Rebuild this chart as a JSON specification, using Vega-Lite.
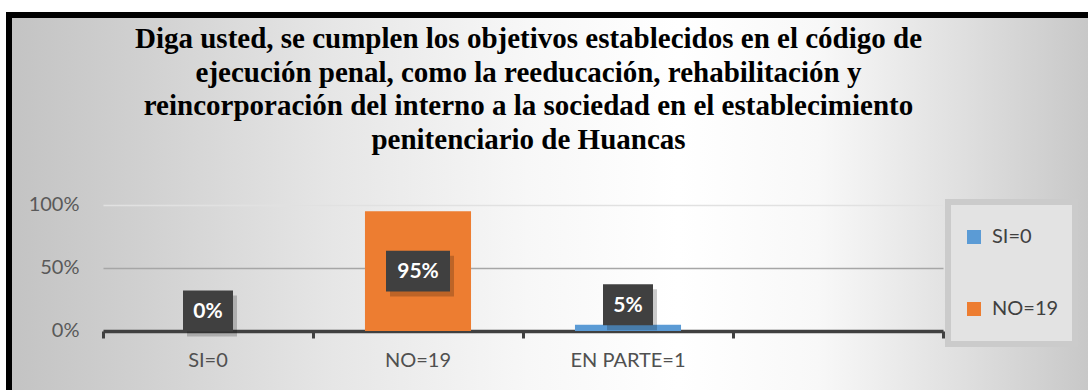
{
  "$schema": "https://vega.github.io/schema/vega-lite/v6.json",
  "width": 1079,
  "height": 375,
  "autosize": "none",
  "padding": {"left": 9, "top": 15, "right": 0, "bottom": 0},
  "background": "#ffffff",
  "view": {
    "fill": {"expr": "{gradient: 'linear', x1: 0, y1: 0, x2: 1, y2: 0, stops: [{offset: 0, color: '#c3c3c3'}, {offset: 0.12, color: '#d0d0d0'}, {offset: 0.3, color: '#e6e6e6'}, {offset: 0.48, color: '#f7f7f7'}, {offset: 0.62, color: '#ffffff'}, {offset: 0.75, color: '#f8f8f8'}, {offset: 0.88, color: '#e0e0e0'}, {offset: 1, color: '#c8c8c8'}]}"},
    "stroke": "#000000",
    "strokeWidth": 6,
    "strokeDash": [1079, 1454, 400]
  },
  "title": {
    "text": [
      "Diga usted, se cumplen los objetivos establecidos en el código de",
      "ejecución penal, como la reeducación, rehabilitación y",
      "reincorporación del interno a la sociedad en el establecimiento",
      "penitenciario de Huancas"
    ],
    "font": "Liberation Serif",
    "fontSize": 29,
    "fontWeight": "bold",
    "color": "#000000",
    "anchor": "middle",
    "frame": "group",
    "baseline": "top",
    "lineHeight": 33.7,
    "offset": -140,
    "dx": -20
  },
  "data": {
    "values": [
      {"respuesta": "SI=0", "serie": "SI=0", "pct": 0},
      {"respuesta": "NO=19", "serie": "NO=19", "pct": 0.95},
      {"respuesta": "EN PARTE=1", "serie": "SI=0", "pct": 0.05}
    ]
  },
  "transform": [
    {"calculate": "datum.pct >= 0.5 ? datum.pct / 2 : datum.pct", "as": "labelPos"}
  ],
  "encoding": {
    "x": {
      "field": "respuesta",
      "type": "nominal",
      "sort": null,
      "title": null,
      "scale": {
        "domain": ["SI=0", "NO=19", "EN PARTE=1", ""],
        "range": [94, 934],
        "paddingInner": 0,
        "paddingOuter": 0
      },
      "axis": {
        "orient": "bottom",
        "offset": -59,
        "bandPosition": 1,
        "tickExtra": true,
        "ticks": true,
        "tickSize": 7,
        "tickWidth": 3,
        "tickColor": "#404040",
        "domain": true,
        "domainColor": "#404040",
        "domainWidth": 3.5,
        "grid": false,
        "labelAngle": 0,
        "labelPadding": 12,
        "labelFont": "Lato",
        "labelFontSize": 20,
        "labelColor": "#505050"
      }
    }
  },
  "layer": [
    {
      "mark": {"type": "bar", "width": {"band": 0.505}},
      "encoding": {
        "y": {
          "field": "pct",
          "type": "quantitative",
          "title": null,
          "scale": {"domain": [-0.4683, 2.5079], "nice": false, "zero": false},
          "axis": {
            "values": [0, 0.5, 1],
            "format": ".0%",
            "domain": false,
            "ticks": false,
            "tickSize": 0,
            "grid": true,
            "gridColor": {"condition": {"test": "datum.value === 1", "value": "#e1e1e1"}, "value": "#a6a6a6"},
            "gridWidth": 1.5,
            "labelPadding": -70,
            "labelFont": "Lato",
            "labelFontSize": 20,
            "labelColor": "#595959"
          }
        },
        "y2": {"datum": 0},
        "color": {
          "field": "serie",
          "type": "nominal",
          "scale": {"domain": ["SI=0", "NO=19"], "range": ["#5b9bd5", "#ed7d31"]},
          "legend": {
            "title": null,
            "orient": "none",
            "legendX": 939,
            "legendY": 187,
            "direction": "vertical",
            "symbolType": "square",
            "symbolSize": 196,
            "symbolStrokeWidth": 0,
            "symbolOpacity": 1,
            "labelFont": "Lato",
            "labelFontSize": 20,
            "labelColor": "#404040",
            "labelOffset": 8,
            "padding": 16,
            "clipHeight": 38,
            "rowPadding": 34,
            "fillColor": "#e3e3e3",
            "strokeColor": "#cbcbcb"
          }
        }
      }
    },
    {
      "transform": [{"filter": "datum.pct < 0.5"}],
      "mark": {"type": "point", "shape": "M-1,-0.82H1V0.82H-1Z", "size": 2500, "filled": true, "color": "#000000", "opacity": 0.2, "strokeWidth": 0, "xOffset": 4, "yOffset": -15},
      "encoding": {"y": {"field": "labelPos", "type": "quantitative"}}
    },
    {
      "transform": [{"filter": "datum.pct >= 0.5"}],
      "mark": {"type": "point", "shape": "M-1,-0.64H1V0.64H-1Z", "size": 4096, "filled": true, "color": "#000000", "opacity": 0.2, "strokeWidth": 0, "xOffset": 4, "yOffset": 5},
      "encoding": {"y": {"field": "labelPos", "type": "quantitative"}}
    },
    {
      "transform": [{"filter": "datum.pct < 0.5"}],
      "mark": {"type": "point", "shape": "M-1,-0.82H1V0.82H-1Z", "size": 2500, "filled": true, "color": "#404040", "opacity": 1, "strokeWidth": 0, "yOffset": -20},
      "encoding": {"y": {"field": "labelPos", "type": "quantitative"}}
    },
    {
      "transform": [{"filter": "datum.pct >= 0.5"}],
      "mark": {"type": "point", "shape": "M-1,-0.64H1V0.64H-1Z", "size": 4096, "filled": true, "color": "#404040", "opacity": 1, "strokeWidth": 0},
      "encoding": {"y": {"field": "labelPos", "type": "quantitative"}}
    },
    {
      "transform": [{"filter": "datum.pct < 0.5"}],
      "mark": {"type": "text", "font": "Lato", "fontSize": 21, "fontWeight": "bold", "color": "#ffffff", "baseline": "middle", "align": "center", "yOffset": -19},
      "encoding": {
        "y": {"field": "labelPos", "type": "quantitative"},
        "text": {"field": "pct", "type": "quantitative", "format": ".0%"}
      }
    },
    {
      "transform": [{"filter": "datum.pct >= 0.5"}],
      "mark": {"type": "text", "font": "Lato", "fontSize": 21, "fontWeight": "bold", "color": "#ffffff", "baseline": "middle", "align": "center", "yOffset": 1},
      "encoding": {
        "y": {"field": "labelPos", "type": "quantitative"},
        "text": {"field": "pct", "type": "quantitative", "format": ".0%"}
      }
    }
  ],
  "config": {
    "legend": {"strokeWidth": 6}
  }
}
